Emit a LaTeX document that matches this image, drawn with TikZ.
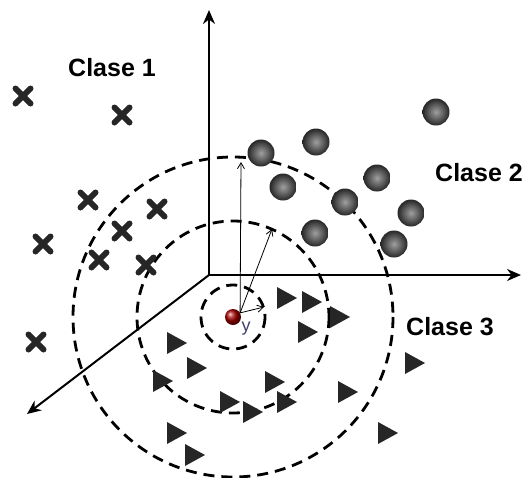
\documentclass[tikz,border=0pt]{standalone}
\usepackage{fontspec}
\setmainfont{Liberation Sans}
\usetikzlibrary{arrows.meta}

\begin{document}
\begin{tikzpicture}[>=Stealth, x=1pt, y=-1pt,
  axis/.style={line width=2pt, -{Stealth[length=14pt, width=12pt]}},
  ring/.style={line width=2.8pt, dash pattern=on 11pt off 7pt},
  pointer/.style={line width=0.8pt, -{Straight Barb[length=6pt, width=7pt]}},
  classlabel/.style={font=\bfseries\fontsize{25}{30}\selectfont}]
  \useasboundingbox (0,0) rectangle (525,477);

  % query point and its neighbourhoods
  \node[circle, inner sep=0pt, minimum size=16pt, ball color=red!65!black] (yq) at (233,317) {};
  \foreach \r in {32,96,160}
    \draw[ring] (yq.center) circle (\r);

  % axes
  \coordinate (o) at (209,275);
  \coordinate (xtip) at (521,275);
  \coordinate (ytip) at (209,10);
  \coordinate (ztip) at (27,414);
  \draw[axis] (o) -- (xtip);
  \draw[axis] (o) -- (ytip);
  \draw[axis] (o) -- (ztip);

  % class 1: crosses
  \foreach \x/\y in {23/96, 122/115, 88/200, 157/209, 122/231, 43/244, 99/260, 146/265, 36/342}
    \draw[black!85, line width=6pt, line cap=round]
      (\x-7.5,\y-7.5) -- (\x+7.5,\y+7.5) (\x-7.5,\y+7.5) -- (\x+7.5,\y-7.5);

  % class 2: spheres
  \foreach \x/\y in {436/112, 316/142, 261/153, 283/187, 377/178, 345/202, 411/213, 315/233, 394/244}
    \shade[inner color=gray!75, outer color=black!85] (\x,\y) circle (13.5);

  % class 3: triangles
  \foreach \x/\y in {287/298, 312/302, 340/317, 308/332, 415/363, 177/343, 197/368, 163/381,
                     275/382, 348/392, 230/402, 253/412, 287/402, 388/433, 177/433, 195/455}
    \fill[black!85] (\x-10,\y-11) -- (\x+10,\y) -- (\x-10,\y+11) -- cycle;

  % neighbours reached from y
  \coordinate (far) at (241,162);
  \coordinate (mid) at (272,229);
  \coordinate (near) at (264,307);
  \draw[pointer] (yq.30) -- (far);
  \draw[pointer] (yq.30) -- (mid);
  \draw[pointer] (yq.30) -- (near);
  \node[font=\fontsize{18}{20}\selectfont, text=blue!25!black!75, inner sep=0pt] (ylab) at (246,329) {y};

  \node[classlabel] (c1) at (112,68) {Clase 1};
  \node[classlabel] (c2) at (479,173) {Clase 2};
  \node[classlabel] (c3) at (450,327) {Clase 3};
\end{tikzpicture}
\end{document}
